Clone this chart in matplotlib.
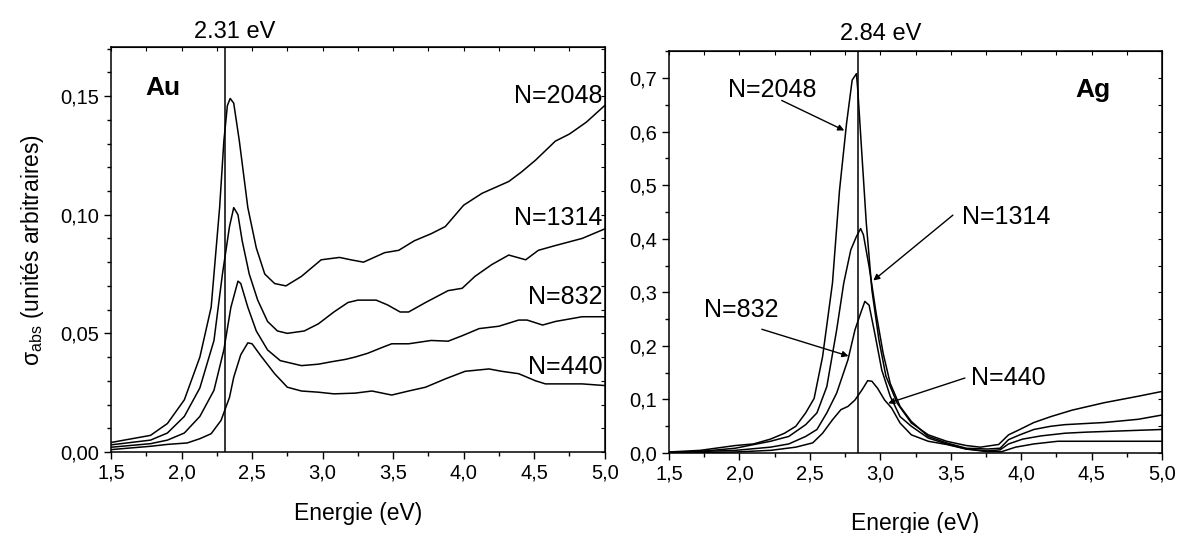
import numpy as np
import matplotlib
matplotlib.use("Agg")
import matplotlib.pyplot as plt
from matplotlib.ticker import MultipleLocator, FuncFormatter

plt.rcParams['font.family'] = ['Liberation Sans', 'DejaVu Sans']
plt.rcParams['mathtext.fontset'] = 'custom'
plt.rcParams['mathtext.rm'] = 'Liberation Sans'

# ---- Au panel data (energie eV, sigma_abs) ----
au_2048_x = [1.50, 1.78, 1.90, 2.02, 2.13, 2.21, 2.27, 2.30, 2.325, 2.345, 2.37, 2.41, 2.47, 2.53, 2.59, 2.66, 2.74, 2.85,
             2.99, 3.12, 3.20, 3.29, 3.44, 3.54, 3.65, 3.77, 3.87, 4.00, 4.13, 4.32, 4.41, 4.51, 4.65, 4.75, 4.87, 5.00]
au_2048_y = [0.004, 0.007, 0.012, 0.022, 0.040, 0.061, 0.103, 0.131, 0.146, 0.149, 0.147, 0.131, 0.103, 0.086, 0.075,
             0.071, 0.070, 0.074, 0.081, 0.082, 0.081, 0.080, 0.084, 0.085, 0.089, 0.092, 0.095, 0.104, 0.109, 0.114,
             0.118, 0.123, 0.131, 0.134, 0.139, 0.146]

au_1314_x = [1.50, 1.78, 1.90, 2.02, 2.13, 2.23, 2.29, 2.34, 2.37, 2.40, 2.43, 2.48, 2.54, 2.61, 2.68, 2.75, 2.87, 2.97,
             3.08, 3.18, 3.25, 3.38, 3.46, 3.55, 3.61, 3.73, 3.89, 3.99, 4.08, 4.20, 4.32, 4.44, 4.53, 4.65, 4.84, 5.00]
au_1314_y = [0.003, 0.005, 0.008, 0.015, 0.027, 0.047, 0.075, 0.095, 0.103, 0.100, 0.089, 0.075, 0.064, 0.055, 0.051,
             0.050, 0.051, 0.054, 0.059, 0.063, 0.064, 0.064, 0.062, 0.059, 0.059, 0.063, 0.068, 0.069, 0.074, 0.079,
             0.083, 0.081, 0.085, 0.087, 0.090, 0.094]

au_832_x = [1.50, 1.78, 1.90, 2.02, 2.13, 2.23, 2.30, 2.35, 2.40, 2.42, 2.47, 2.53, 2.61, 2.70, 2.85, 2.97, 3.06, 3.16,
            3.23, 3.32, 3.42, 3.49, 3.61, 3.77, 3.89, 3.99, 4.11, 4.25, 4.39, 4.45, 4.56, 4.65, 4.84, 5.00]
au_832_y = [0.002, 0.0035, 0.005, 0.008, 0.015, 0.026, 0.043, 0.061, 0.072, 0.071, 0.061, 0.051, 0.043, 0.0385, 0.0364,
            0.037, 0.038, 0.039, 0.040, 0.0416, 0.044, 0.0456, 0.0456, 0.047, 0.0467, 0.049, 0.052, 0.053, 0.0556,
            0.0556, 0.0535, 0.055, 0.057, 0.057]

au_440_x = [1.50, 1.78, 1.90, 2.04, 2.13, 2.21, 2.28, 2.34, 2.37, 2.42, 2.47, 2.50, 2.56, 2.66, 2.75, 2.85, 2.97, 3.08,
            3.23, 3.35, 3.49, 3.61, 3.73, 3.87, 4.01, 4.18, 4.27, 4.39, 4.51, 4.58, 4.70, 4.84, 5.00]
au_440_y = [0.001, 0.0024, 0.0032, 0.0038, 0.0056, 0.0077, 0.0133, 0.023, 0.0315, 0.041, 0.046, 0.0456, 0.0407, 0.033,
            0.0273, 0.0257, 0.0252, 0.0245, 0.0248, 0.0257, 0.024, 0.0257, 0.0273, 0.0308, 0.034, 0.035, 0.034, 0.033,
            0.030, 0.0287, 0.0287, 0.0287, 0.028]

# ---- Ag panel data ----
ag_2048_x = [1.50, 1.72, 1.97, 2.10, 2.22, 2.32, 2.40, 2.47, 2.53, 2.59, 2.66, 2.71, 2.76, 2.80, 2.83, 2.84, 2.87, 2.90,
             2.94, 2.99, 3.04, 3.12, 3.22, 3.34, 3.47, 3.61, 3.71, 3.84, 3.91, 3.99, 4.09, 4.21, 4.36, 4.59, 4.83, 5.00]
ag_2048_y = [0.002, 0.005, 0.014, 0.017, 0.026, 0.037, 0.050, 0.075, 0.102, 0.180, 0.317, 0.490, 0.615, 0.696, 0.708,
             0.677, 0.553, 0.430, 0.304, 0.211, 0.143, 0.093, 0.056, 0.034, 0.022, 0.014, 0.011, 0.016, 0.034, 0.044,
             0.057, 0.068, 0.080, 0.094, 0.106, 0.115]

ag_1314_x = [1.50, 1.72, 1.97, 2.22, 2.35, 2.47, 2.55, 2.62, 2.69, 2.74, 2.79, 2.83, 2.86, 2.88, 2.92, 2.97, 3.02, 3.07,
             3.14, 3.22, 3.34, 3.47, 3.61, 3.76, 3.85, 3.91, 3.99, 4.09, 4.21, 4.31, 4.59, 4.83, 5.00]
ag_1314_y = [0.001, 0.003, 0.009, 0.022, 0.031, 0.053, 0.075, 0.124, 0.230, 0.317, 0.379, 0.404, 0.419, 0.407, 0.348,
             0.261, 0.186, 0.130, 0.087, 0.059, 0.031, 0.019, 0.009, 0.0075, 0.009, 0.025, 0.034, 0.044, 0.050, 0.053,
             0.057, 0.063, 0.071]

ag_832_x = [1.50, 1.97, 2.22, 2.35, 2.47, 2.55, 2.62, 2.69, 2.77, 2.82, 2.86, 2.89, 2.92, 2.96, 3.01, 3.07, 3.14, 3.22,
            3.34, 3.47, 3.61, 3.76, 3.85, 3.91, 4.01, 4.14, 4.31, 4.46, 5.00]
ag_832_y = [0.001, 0.005, 0.011, 0.017, 0.031, 0.044, 0.075, 0.112, 0.174, 0.230, 0.261, 0.283, 0.276, 0.224, 0.155,
            0.106, 0.068, 0.050, 0.028, 0.017, 0.0075, 0.004, 0.006, 0.017, 0.026, 0.032, 0.037, 0.039, 0.044]

ag_440_x = [1.50, 1.97, 2.22, 2.40, 2.52, 2.59, 2.66, 2.72, 2.77, 2.82, 2.87, 2.91, 2.94, 2.98, 3.03, 3.08, 3.14, 3.22,
            3.34, 3.47, 3.61, 3.76, 3.86, 3.96, 4.09, 4.26, 4.46, 5.00]
ag_440_y = [0.000, 0.002, 0.005, 0.011, 0.019, 0.037, 0.062, 0.081, 0.087, 0.099, 0.118, 0.135, 0.134, 0.121, 0.099,
            0.084, 0.056, 0.034, 0.022, 0.016, 0.0075, 0.0025, 0.0025, 0.011, 0.017, 0.022, 0.022, 0.022]

au_labels = ["N=2048", "N=1314", "N=832", "N=440"]
au_label_y = [0.150, 0.0988, 0.0652, 0.0357]

# Ag annotations: text (x_left, y_center), arrow tail, arrow head
ag_labels = ["N=2048", "N=1314", "N=832", "N=440"]
ag_text_xy = [(1.92, 0.677), (3.577, 0.441), (1.749, 0.267), (3.64, 0.140)]
ag_tail = [(2.30, 0.658), (3.515, 0.444), (2.159, 0.231), (3.60, 0.140)]
ag_head = [(2.744, 0.602), (2.95, 0.322), (2.774, 0.181), (3.055, 0.093)]

lw = 1.1


def comma(fmt):
    return FuncFormatter(lambda v, p: (fmt % v).replace('.', ','))


def style(ax, ymaj, ymin, yfmt, ylim, pad):
    ax.set_xlim(1.5, 5.0)
    ax.set_ylim(*ylim)
    ax.xaxis.set_major_locator(MultipleLocator(0.5))
    ax.xaxis.set_minor_locator(MultipleLocator(0.25))
    ax.yaxis.set_major_locator(MultipleLocator(ymaj))
    ax.yaxis.set_minor_locator(MultipleLocator(ymin))
    ax.xaxis.set_major_formatter(comma('%.1f'))
    ax.yaxis.set_major_formatter(comma(yfmt))
    ax.tick_params(which='major', direction='out', length=5, width=1, labelsize=14.5)
    ax.tick_params(which='minor', direction='out', length=3, width=1)
    for s in ax.spines.values():
        s.set_linewidth(1.1)
    top = ax.secondary_xaxis('top')
    top.xaxis.set_major_locator(MultipleLocator(0.5))
    top.xaxis.set_minor_locator(MultipleLocator(0.25))
    top.tick_params(which='both', direction='in', length=3, width=0.8, labeltop=False)
    right = ax.secondary_yaxis('right')
    right.yaxis.set_major_locator(MultipleLocator(ymaj))
    right.yaxis.set_minor_locator(MultipleLocator(ymin))
    right.tick_params(which='both', direction='in', length=3, width=0.8, labelright=False)
    ax.set_xlabel("Energie (eV)", fontsize=16.5, labelpad=pad)


fig = plt.figure(figsize=(11.81, 5.33), dpi=100)
ax1 = fig.add_axes([0.094, 0.152, 0.418, 0.759])
ax2 = fig.add_axes([0.5665, 0.150, 0.4175, 0.754])

# Au
for xs, ys in [(au_2048_x, au_2048_y), (au_1314_x, au_1314_y), (au_832_x, au_832_y), (au_440_x, au_440_y)]:
    ax1.plot(xs, ys, color='black', lw=lw)
ax1.axvline(2.31, color='black', lw=1.1)
style(ax1, 0.05, 0.01, '%.2f', (0, 0.1705), 14)
ax1.set_ylabel("σ$_{\\mathrm{abs}}$ (unités arbitraires)", fontsize=16.5, labelpad=10)
for lab, yy in zip(au_labels, au_label_y):
    ax1.text(4.985, yy, lab, ha='right', va='center', fontsize=18)
ax1.text(1.742, 0.1535, "Au", ha='left', va='center', fontsize=19, fontweight='bold')
ax1.text(2.38, 1.012, "2.31 eV", transform=ax1.get_xaxis_transform(), ha='center', va='bottom', fontsize=17)

# Ag
for xs, ys in [(ag_2048_x, ag_2048_y), (ag_1314_x, ag_1314_y), (ag_832_x, ag_832_y), (ag_440_x, ag_440_y)]:
    ax2.plot(xs, ys, color='black', lw=lw)
ax2.axvline(2.84, color='black', lw=1.1)
style(ax2, 0.1, 0.05, '%.1f', (0, 0.75), 20)
for lab, txy, tail, head in zip(ag_labels, ag_text_xy, ag_tail, ag_head):
    ax2.text(txy[0], txy[1], lab, ha='left', va='center', fontsize=18)
    ax2.annotate('', xy=head, xytext=tail,
                 arrowprops=dict(arrowstyle='-|>', color='black', lw=1.0, mutation_scale=9,
                                 shrinkA=0, shrinkB=0))
ax2.text(4.385, 0.678, "Ag", ha='left', va='center', fontsize=19, fontweight='bold')
ax2.text(3.0, 1.015, "2.84 eV", transform=ax2.get_xaxis_transform(), ha='center', va='bottom', fontsize=17)

fig.savefig("out.png", dpi=100)
